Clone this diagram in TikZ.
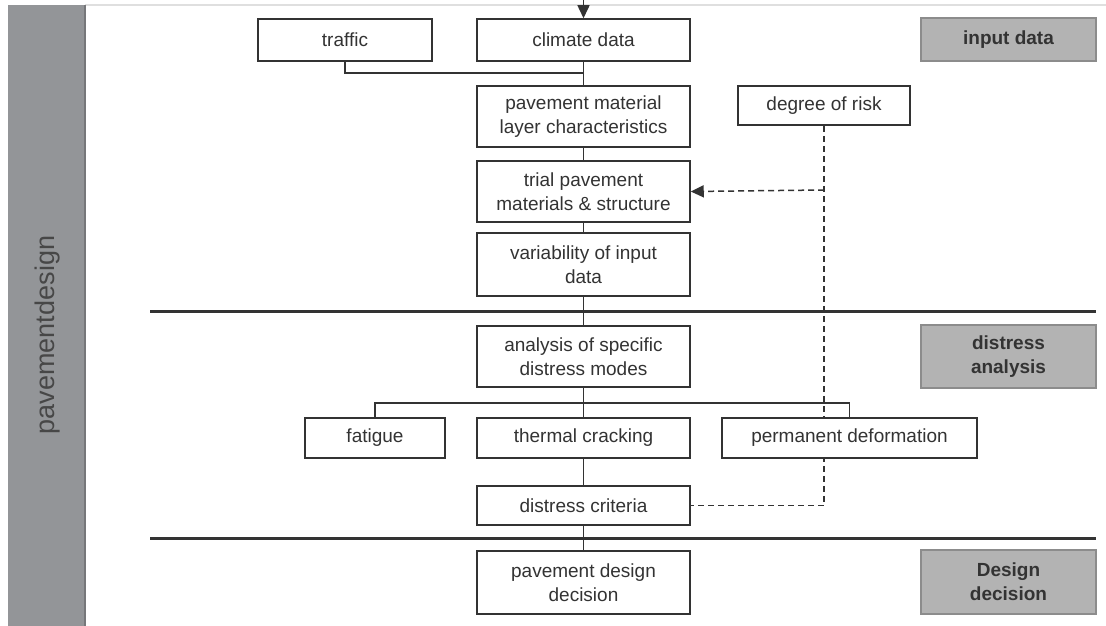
\documentclass[tikz,border=0pt]{standalone}
\usepackage{fontspec}
\setmainfont{Liberation Sans}
\usetikzlibrary{arrows.meta,backgrounds}
\definecolor{barfill}{HTML}{939598}
\definecolor{tagfill}{HTML}{B3B3B3}
\definecolor{tagline}{HTML}{8C8C8C}
\definecolor{ink}{HTML}{333333}
\begin{document}
\begin{tikzpicture}[x=1pt,y=-1pt,
  font=\fontsize{19}{24}\selectfont,
  box/.style={draw=ink,line width=1.5pt,fill=white,text=ink,inner sep=0pt,
    align=center,anchor=center},
  tag/.style={draw=tagline,line width=1.6pt,fill=tagfill,text=ink,inner sep=0pt,
    align=center,anchor=center,font=\fontsize{19}{24}\selectfont\bfseries},
  link/.style={draw=ink,line width=1.5pt},
  risk/.style={draw=ink,line width=1.5pt,dash pattern=on 6pt off 4pt},
  sep/.style={draw=ink,line width=3pt},
  tip/.style={-{Triangle[length=13pt,width=12pt]}}]
\useasboundingbox (0,0) rectangle (1106,626);
% side band and top rule
\draw[gray!25,line width=1.5pt] (85,5) -- (1106,5);
\fill[barfill] (8,5) rectangle (85,626);
\fill[barfill!80!black] (84,5) rectangle (86,626);
\node[rotate=90,text=ink!90,font=\fontsize{27}{30}\selectfont] (band) at (48,335) {pavementdesign};

% section separators
\coordinate (s1l) at (150,311); \coordinate (s1r) at (1096,311);
\coordinate (s2l) at (150,538); \coordinate (s2r) at (1096,538);
\draw[sep] (s1l) -- (s1r);
\draw[sep] (s2l) -- (s2r);

% input data
\node[box,minimum width=174pt,minimum height=42pt] (traffic) at (345,40) {traffic};
\node[box,minimum width=213pt,minimum height=42pt] (climate) at (583.5,40) {climate data};
\node[tag,minimum width=175pt,minimum height=43pt] (tin) at (1008.5,39.5) {input data};
\node[box,minimum width=213pt,minimum height=61pt] (mat) at (583.5,116.5) {pavement material\\layer characteristics};
\node[box,minimum width=172pt,minimum height=39pt] (riskbox) at (824,105.5) {degree of risk};
\node[box,minimum width=213pt,minimum height=61pt] (trial) at (583.5,191.5) {trial pavement\\materials \& structure};
\node[box,minimum width=213pt,minimum height=63pt] (var) at (583.5,264.5) {variability of input\\data};

% distress analysis
\node[box,minimum width=213pt,minimum height=61pt] (ana) at (583.5,356.5) {analysis of specific\\distress modes};
\node[tag,minimum width=175pt,minimum height=63pt] (tda) at (1008.5,356.5) {distress\\analysis};
\node[box,minimum width=140pt,minimum height=40pt] (fat) at (375,438) {fatigue};
\node[box,minimum width=213pt,minimum height=40pt] (therm) at (583.5,438) {thermal cracking};
\node[box,minimum width=255pt,minimum height=40pt] (perm) at (849.5,438) {permanent deformation};
\node[box,minimum width=213pt,minimum height=39pt] (crit) at (583.5,505.5) {distress criteria};

% design decision
\node[box,minimum width=213pt,minimum height=63pt] (dec) at (583.5,582.5) {pavement design\\decision};
\node[tag,minimum width=175pt,minimum height=64pt] (tdd) at (1008.5,582) {Design\\decision};

% connectors
\coordinate (top) at (583.5,0);
\coordinate (join) at (583.5,73);
\coordinate (branch) at (583.5,403);
\coordinate (rjoin) at (824,190);
\coordinate (rturn) at (824,505.5);
\begin{scope}[on background layer]
  \draw[link] (traffic.south) |- (join);
  \draw[link] (climate.south) -- (mat.north);
  \draw[link] (mat.south) -- (trial.north);
  \draw[link] (trial.south) -- (var.north);
  \draw[link] (var.south) -- (ana.north);
  \draw[link] (ana.south) -- (therm.north);
  \draw[link] (fat.north) |- (branch) -| (perm.north);
  \draw[link] (therm.south) -- (crit.north);
  \draw[link] (crit.south) -- (dec.north);
  \draw[risk] (riskbox.south) -- (rturn) -- (crit.east);
\end{scope}
\draw[link,tip] (top) -- (climate.north);
\draw[risk,tip] (rjoin) -- (trial.east);
\end{tikzpicture}
\end{document}
